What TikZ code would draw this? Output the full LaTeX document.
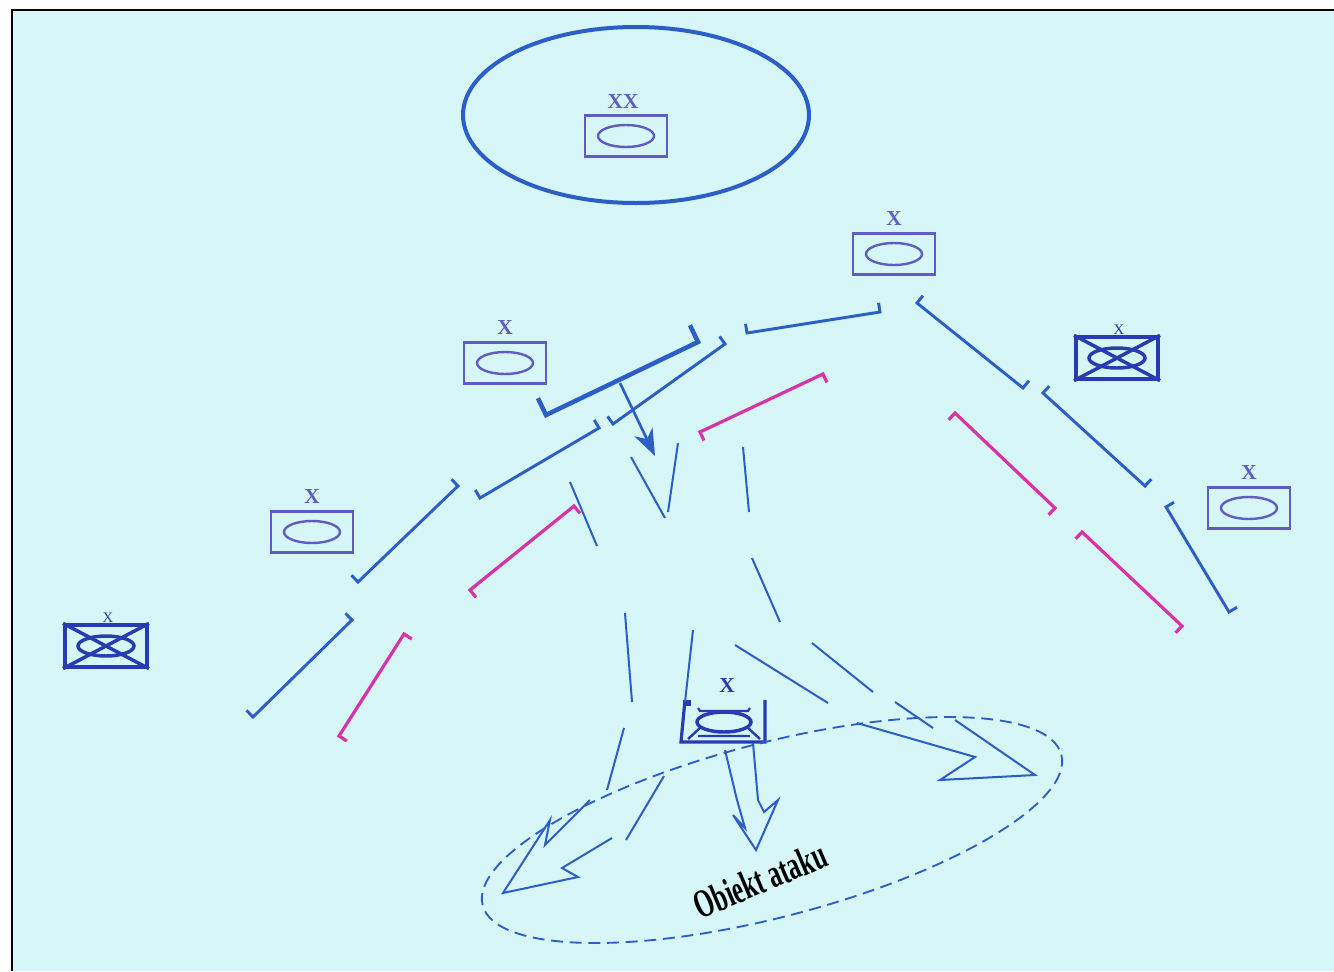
\documentclass[tikz,border=0pt]{standalone}
\usepackage{fontspec}
\setmainfont{Liberation Serif}
\usetikzlibrary{calc,arrows.meta}

\definecolor{sheet}{RGB}{214,246,247}
\definecolor{ownblue}{RGB}{44,94,200}
\definecolor{unitblue}{RGB}{96,92,196}
\definecolor{mechblue}{RGB}{40,60,178}
\definecolor{enemypink}{RGB}{216,50,168}

\begin{document}
\begin{tikzpicture}[
		x=0.75pt,y=-0.75pt,
		front line/.style={draw=ownblue,line width=2.2pt},
		main line/.style={draw=ownblue,line width=3.4pt},
		enemy line/.style={draw=enemypink,line width=2.4pt},
		axis/.style={draw=ownblue,line width=1.5pt,line join=miter},
		unit box/.style={draw=unitblue,line width=2.2pt,minimum width=61.5pt,minimum height=30.5pt,inner sep=0pt},
		unit ring/.style={draw=unitblue,line width=1.8pt},
		mech box/.style={draw=mechblue,line width=3pt,minimum width=61.5pt,minimum height=31pt,inner sep=0pt},
		mech line/.style={draw=mechblue,line width=2.6pt},
		echelon/.style={text=unitblue,font=\bfseries\fontsize{16}{16}\selectfont,inner sep=0pt},
		small echelon/.style={text=mechblue,font=\fontsize{11}{11}\selectfont,inner sep=0pt}
	]
		% Sheet and its frame.
		\useasboundingbox (0,0) rectangle (1334,971);
		\fill[white] (0,0) rectangle (1334,971);
		\fill[sheet] (12,10) rectangle (1334,971);
		\draw[black,line width=1pt] (12,971) -- (12,10) -- (1334,10);

		% Division area with its command post.
		\draw[ownblue,line width=3pt] (636,115) ellipse [x radius=173, y radius=88];
		\node[unit box] (div) at (626,136) {};
		\draw[unit ring] (div.center) ellipse [x radius=28, y radius=11];
		\node[echelon] (divlabel) at (623,102) {XX};

		% Brigades.
		\foreach \name/\cx/\cy in {
			bdeA/894/254,
			bdeB/505/363,
			bdeC/312/532,
			bdeD/1249/508}
			{
			\node[unit box] (\name) at (\cx,\cy) {};
			\draw[unit ring] (\name.center) ellipse [x radius=28, y radius=11];
			\node[echelon] at ($(\name.north)+(0,-14)$) {X};
			}

		% Mechanised brigades.
		\foreach \name/\cx/\cy in {
			mechE/1117/358,
			mechF/106/646}
			{
			\node[mech box] (\name) at (\cx,\cy) {};
			\draw[mech line] (\name.north west) -- (\name.south east)
				(\name.north east) -- (\name.south west);
			\draw[mech line] (\name.center) ellipse [x radius=28, y radius=10];
			\node[small echelon] at ($(\name.north)+(2,-6)$) {X};
			}

		% Reserve brigade near the objective.
		\begin{scope}[shift={(724,722)}]
			\draw[mechblue,line width=2.4pt] (-39,-22) -- (-43,20) -- (41,20) -- (41,-22);
			\fill[mechblue] (-41,-22) rectangle (-33,-16);
			\draw[mechblue,line width=2.6pt] (0,0) ellipse [x radius=27, y radius=10];
			\draw[mechblue,line width=1.6pt] (-26,-14) -- (-24,-11) -- (24,-11) -- (26,-14);
			\draw[mechblue,line width=1.8pt] (-24,6) -- (-36,17) (24,6) -- (36,17)
				(-26,14) -- (26,14);
			\node[echelon,text=mechblue] (reslabel) at (3,-36) {X};
		\end{scope}

		% Own forward lines.
		\draw[main line] ($(546,415)!14pt!90:(698,342)$) -- (546,415) -- (698,342)
			-- ($(698,342)!14pt!-90:(546,415)$);
		\foreach \ax/\ay/\bx/\by in {
			613/424/725/344,
			480/498/599/428,
			747/333/880/312,
			917/303/1023/388,
			1043/393/1145/486,
			1166/507/1229/612,
			358/582/458/486,
			253/717/352/620}
			\draw[front line] ($(\ax,\ay)!7pt!90:(\bx,\by)$) -- (\ax,\ay) -- (\bx,\by)
				-- ($(\bx,\by)!7pt!-90:(\ax,\ay)$);

		% Enemy lines.
		\foreach \ax/\ay/\bx/\by in {
			700/432/823/374,
			470/590/574/506,
			339/736/404/634,
			955/413/1055/508,
			1082/532/1182/626}
			\draw[enemy line] ($(\ax,\ay)!7pt!-90:(\bx,\by)$) -- (\ax,\ay) -- (\bx,\by)
				-- ($(\bx,\by)!7pt!90:(\ax,\ay)$);

		% Direction of the main effort.
		\draw[axis,line width=2pt,-{Stealth[length=20pt,width=15pt,inset=6pt]}]
			(620,383) -- (655,456);

		% Axes of the attack, drawn as broken strokes.
		\foreach \ax/\ay/\bx/\by in {
			631/457/665/518,
			678/443/668/512,
			570/482/597/546,
			743/447/749/512,
			752/558/780/622,
			625/613/632/702,
			693/630/685/702,
			735/645/828/703,
			812/643/873/692,
			895/702/933/728,
			624/728/607/790,
			664/776/626/840}
			\draw[axis] (\ax,\ay) -- (\bx,\by);
		\draw[axis] (955,720) -- (1035,775) -- (940,780) -- (975,757) -- (857,723);
		\draw[axis] (590,800) -- (545,845) -- (550,820) -- (503,893) -- (578,877) -- (562,868) -- (612,838);
		\draw[axis] (725,750) -- (737,800) -- (745,828) -- (733,815) -- (756,850) -- (778,800) -- (764,812) -- (758,800) -- (753,743);

		% Objective.
		\draw[ownblue,line width=1.4pt,dash pattern=on 9pt off 5pt,rotate around={14.6:(772,830)}]
			(772,830) ellipse [x radius=299, y radius=87];
		\node[rotate=23,xscale=0.62,font=\bfseries\fontsize{30}{30}\selectfont] (target) at (760,880) {Obiekt ataku};
	\end{tikzpicture}
\end{document}
